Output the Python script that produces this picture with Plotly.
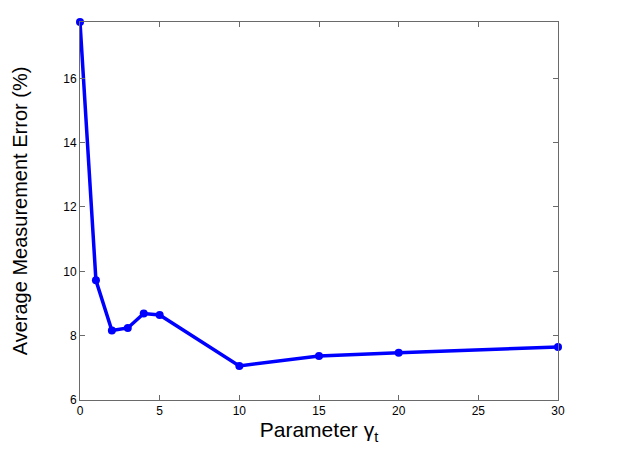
import plotly.graph_objects as go

gamma_t = [0, 1, 2, 3, 4, 5, 10, 15, 20, 30]
avg_error = [17.75, 9.72, 8.16, 8.24, 8.69, 8.64, 7.06, 7.37, 7.47, 7.65]
x_ticks = [0, 5, 10, 15, 20, 25, 30]
y_ticks = [6, 8, 10, 12, 14, 16]

fig = go.Figure()
fig.add_trace(go.Scatter(
    x=gamma_t, y=avg_error, mode="lines+markers",
    line=dict(color="#0000FF", width=3.5),
    marker=dict(color="#0000FF", size=8),
    cliponaxis=False, showlegend=False,
))

axis_common = dict(
    showline=True, linecolor="#6a6a6a", linewidth=1, mirror="ticks",
    ticks="inside", ticklen=5, tickcolor="#6a6a6a", showgrid=False, zeroline=False,
    tickfont=dict(family="Liberation Sans, Arial, sans-serif", size=12, color="#000"),
)

fig.update_layout(
    width=609, height=443,
    margin=dict(l=72, r=59, t=14, b=51),
    paper_bgcolor="white", plot_bgcolor="white",
    font=dict(family="Liberation Sans, Arial, sans-serif", color="#000"),
    xaxis=dict(range=[0, 30], tickvals=x_ticks,
               title=dict(text="Parameter γ<sub>t</sub>", font=dict(size=21), standoff=4),
               **axis_common),
    yaxis=dict(range=[6, 17.75], tickvals=y_ticks,
               title=dict(text="Average Measurement Error (%)", font=dict(size=20), standoff=30),
               **axis_common),
)

fig.write_html("out.html")
